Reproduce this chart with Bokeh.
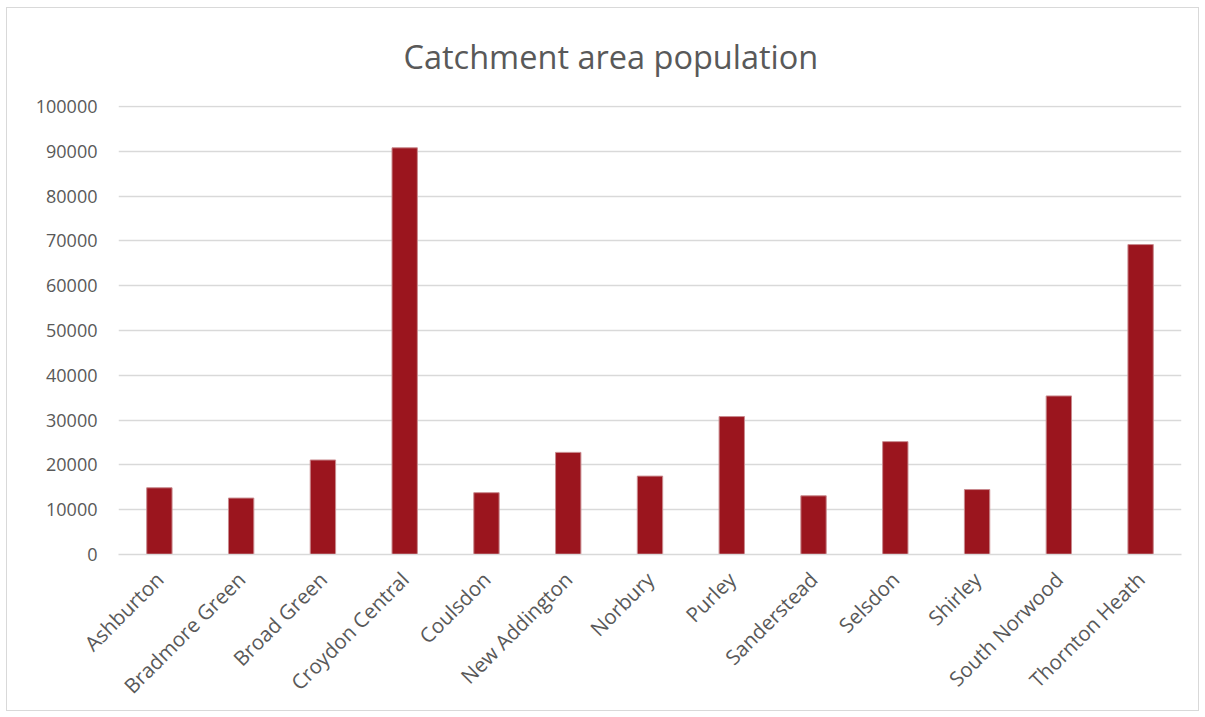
import math
from bokeh.plotting import figure
from bokeh.models import ColumnDataSource, Range1d, FixedTicker, NumeralTickFormatter
from bokeh.embed import file_html
from bokeh.resources import INLINE

categories = ["Ashburton", "Bradmore Green", "Broad Green", "Croydon Central", "Coulsdon",
              "New Addington", "Norbury", "Purley", "Sanderstead", "Selsdon", "Shirley",
              "South Norwood", "Thornton Heath"]
population = [14900, 12600, 21100, 90800, 13800, 22800, 17500, 30800, 13100, 25200, 14500, 35400, 69200]
y_ticks = [0, 10000, 20000, 30000, 40000, 50000, 60000, 70000, 80000, 90000, 100000]
title_text = "Catchment area population"

FONT = "Open Sans"
TEXT_COLOR = "#595959"
GRID = "#d9d9d9"
BAR = "#9b151e"

W, H = 1193, 704
p = figure(x_range=categories, y_range=Range1d(0, 100250), width=W, height=H,
           output_backend="svg", toolbar_location=None, title=title_text,
           min_border_left=111, min_border_right=19, min_border_top=97, min_border_bottom=158)
p.styles = {"margin-left": "6px", "margin-top": "7px", "border": "1px solid #d9d9d9"}

src = ColumnDataSource(dict(cat=categories, pop=population))
p.vbar(x="cat", top="pop", width=0.31, source=src, fill_color=BAR, line_color="#c98a8e", line_width=1)

p.title.align = "left"
p.title.offset = 285
p.title.vertical_align = "top"
p.title.text_font = FONT
p.title.text_font_size = "32.5px"
p.title.text_font_style = "normal"
p.title.text_color = TEXT_COLOR
p.title.standoff = 50

p.outline_line_color = None
p.background_fill_color = "white"
p.border_fill_color = "white"
p.xgrid.grid_line_color = None
p.ygrid.grid_line_color = GRID
p.ygrid.grid_line_width = 1.3
p.yaxis.ticker = FixedTicker(ticks=y_ticks)
p.yaxis.formatter = NumeralTickFormatter(format="0")
p.yaxis.axis_line_color = None
p.yaxis.major_tick_line_color = None
p.yaxis.minor_tick_line_color = None
p.yaxis.major_label_standoff = 15
p.xaxis.axis_line_color = GRID
p.xaxis.axis_line_width = 1.3
p.xaxis.major_tick_line_color = None
p.xaxis.minor_tick_line_color = None
p.xaxis.major_label_orientation = math.pi / 4
p.xaxis.major_label_standoff = 15
for ax in (p.xaxis, p.yaxis):
    ax.major_label_text_font = FONT
    ax.major_label_text_color = TEXT_COLOR
p.yaxis.major_label_text_font_size = "18px"
p.xaxis.major_label_text_font_size = "20.5px"

open("out.html", "w").write(file_html(p, INLINE))
